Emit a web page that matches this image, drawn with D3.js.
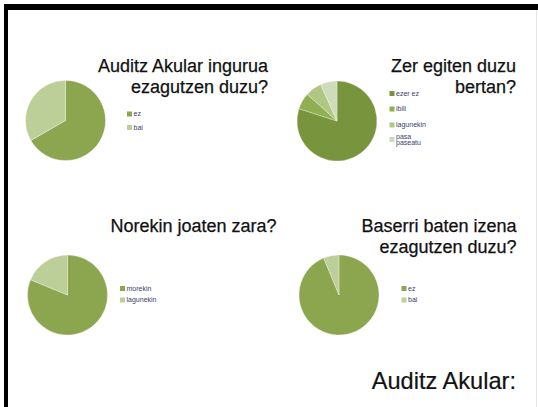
<!DOCTYPE html>
<html>
<head>
<meta charset="utf-8">
<script src="https://cdn.jsdelivr.net/npm/d3@7/dist/d3.min.js"></script>
<style>
  html, body { margin: 0; padding: 0; background: #fff; }
  svg { display: block; }
</style>
</head>
<body>
<svg id="slide" width="538" height="407"></svg>
<script>
// Survey answers (counts per answer)
const q1Labels = ["ez", "bai"];
const q1Values = [10, 5];
const q2Labels = ["ezer ez", "ibili", "lagunekin", "pasa paseatu"];
const q2Values = [12, 1, 1, 1];
const q3Labels = ["morekin", "lagunekin"];
const q3Values = [13, 3];
const q4Labels = ["ez", "bai"];
const q4Values = [15, 1];

// Question titles (one array entry per line)
const q1Title = ["Auditz Akular ingurua", "ezagutzen duzu?"];
const q2Title = ["Zer egiten duzu", "bertan?"];
const q3Title = ["Norekin joaten zara?"];
const q4Title = ["Baserri baten izena", "ezagutzen duzu?"];
const footer = "Auditz Akular:";

const svg = d3.select("#slide");
const W = 538, H = 407;
const FONT = "Liberation Sans, Arial, sans-serif";

// slide frame
svg.append("rect").attr("x", 4).attr("y", 4).attr("width", W - 4).attr("height", 6).attr("fill", "#000");
svg.append("rect").attr("x", 4).attr("y", 4).attr("width", 4).attr("height", H - 4).attr("fill", "#000");
svg.append("line").attr("x1", 536.5).attr("x2", 536.5).attr("y1", 10).attr("y2", H)
  .attr("stroke", "#e4e4e4").attr("stroke-width", 1);

const twoColors = ["#8ba64f", "#bccf98"];
const fourColors = ["#78943d", "#8faf52", "#afc783", "#cfdcb9"];

const charts = [
  { labels: q1Labels, values: q1Values, title: q1Title, colors: twoColors,
    cx: 65.5, cy: 120.5, titleX: 268, titleY: 72, legX: 127, legY: [114, 127.5] },
  { labels: q2Labels, values: q2Values, title: q2Title, colors: fourColors,
    cx: 337, cy: 121, titleX: 516, titleY: 72, legX: 389.5, legY: [93.5, 109, 125, 139.5] },
  { labels: q3Labels, values: q3Values, title: q3Title, colors: twoColors,
    cx: 67.5, cy: 295, titleX: 276.5, titleY: 232, legX: 120, legY: [288.5, 300] },
  { labels: q4Labels, values: q4Values, title: q4Title, colors: twoColors,
    cx: 339, cy: 295, titleX: 516.5, titleY: 232, legX: 401.5, legY: [288.5, 300] }
];

const pie = d3.pie().sort(null).value(d => d);
const arc = d3.arc().innerRadius(0).outerRadius(40);

charts.forEach(c => {
  const g = svg.append("g");
  const color = d3.scaleOrdinal().domain(c.labels).range(c.colors);

  // pie
  g.append("g").attr("transform", `translate(${c.cx},${c.cy})`)
    .selectAll("path").data(pie(c.values)).join("path")
    .attr("d", arc)
    .attr("fill", (d, i) => color(c.labels[i]))
    .attr("stroke", "#ffffff").attr("stroke-opacity", 0.5).attr("stroke-width", 0.6);

  // title
  const t = g.append("text")
    .attr("text-anchor", "end")
    .attr("font-family", FONT)
    .attr("font-size", 18)
    .attr("fill", "#111")
    .attr("stroke", "#111").attr("stroke-width", 0.25);
  c.title.forEach((line, i) => {
    t.append("tspan").attr("x", c.titleX).attr("y", c.titleY + i * 21.3).text(line);
  });

  // legend
  c.labels.forEach((lab, i) => {
    const y = c.legY[i];
    g.append("rect").attr("x", c.legX).attr("y", y - 2.5).attr("width", 5).attr("height", 5)
      .attr("fill", color(lab));
    const parts = lab === "pasa paseatu" ? ["pasa", "paseatu"] : [lab];
    parts.forEach((p, j) => {
      g.append("text")
        .attr("x", c.legX + 6.5)
        .attr("y", y + 2.3 + (parts.length > 1 ? (j - 0.5) * 6.5 : 0))
        .attr("font-family", FONT)
        .attr("font-size", 7)
        .attr("fill", "#3c3c6e")
        .text(p);
    });
  });
});

svg.append("text")
  .attr("x", 516).attr("y", 389)
  .attr("text-anchor", "end")
  .attr("font-family", FONT)
  .attr("font-size", 23.6)
  .attr("fill", "#111")
  .attr("stroke", "#111").attr("stroke-width", 0.2)
  .text(footer);
</script>
</body>
</html>
